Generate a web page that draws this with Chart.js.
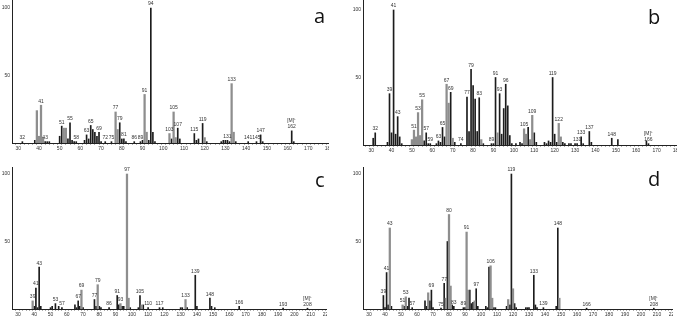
<!DOCTYPE html>
<html><head><meta charset="utf-8">
<script src="https://cdn.jsdelivr.net/npm/chart.js@4/dist/chart.umd.min.js"></script>
<style>
html,body{margin:0;padding:0;background:#fff}
body{width:683px;height:317px;position:relative;overflow:hidden}
canvas{position:absolute;display:block}
.tag{position:absolute;font-family:'Open Sans','Liberation Sans',sans-serif;font-size:20px;line-height:1;color:#111}
</style></head><body>
<canvas id="ca" width="329" height="158" style="left:0;top:0"></canvas>
<canvas id="cb" width="326" height="160" style="left:351px;top:0"></canvas>
<canvas id="cc" width="327" height="150" style="left:0;top:167px"></canvas>
<canvas id="cd" width="322" height="150" style="left:351px;top:167px"></canvas>
<div class="tag" style="left:314px;top:6px">a</div>
<div class="tag" style="left:648px;top:7px">b</div>
<div class="tag" style="left:315px;top:170px">c</div>
<div class="tag" style="left:648px;top:169px">d</div>
<script>
// ---- Panel a: [m/z, relative intensity]
const aDark = [[32,1],[38,2],[43,1],[44,1],[45,1],[50,5],[51,12.5],[54,3],[55,15],[56,2],[57,1],[58,1],[62,2],[63,6],[64,3],[65,13],[66,10],[67,8],[68,5],[69,8],[70,1],[72,1],[75,1],[79,15],[80,3],[81,3],[82,1],[86,1],[89,1],[90,2],[93,2],[94,100],[95,8],[96,1],[104,3],[107,11],[108,3],[115,7],[116,2],[117,3],[119,14.5],[121,1],[128,1],[129,2],[130,2],[131,2],[132,1],[135,1],[141,1],[145,1],[147,6],[148,1],[162,9],[163,1]];
const aGray = [[39,24],[40,5],[41,28],[42,4],[52,11],[53,11],[77,23],[78,10],[91,36],[92,8],[103,7],[105,23],[106,4],[120,4],[133,44],[134,8]];
const aLabels = [[32,'32'],[41,'41'],[43,'43'],[51,'51'],[55,'55'],[58,'58'],[63,'63'],[65,'65'],[69,'69'],[72,'72'],[75,'75'],[77,'77'],[79,'79'],[81,'81'],[86,'86'],[89,'89'],[91,'91'],[94,'94'],[103,'103'],[105,'105'],[107,'107'],[115,'115'],[119,'119'],[131,'131'],[133,'133'],[141,'141'],[145,'145'],[147,'147'],[162,['[M]⁺','162']]];

// ---- Panel b
const bDark = [[31,5],[32,9],[38,2],[39,38],[40,9],[41,100],[42,8],[43,21],[44,6],[45,1],[56,3],[57,9],[58,1],[59,1],[62,1],[63,3],[64,2],[65,13],[66,6],[69,39],[71,2],[74,1],[77,35.5],[78,10],[79,56],[80,44],[81,34],[82,10],[83,35],[85,1],[89,1],[90,1],[91,50],[93,38],[94,8],[95,27],[96,45],[97,29],[98,7],[99,1],[101,1],[103,2],[104,1],[107,13],[110,9],[111,2],[115,2],[116,1],[117,3],[118,2],[119,50],[120,8],[121,2],[124,2],[125,1],[127,1],[128,1],[130,1],[131,1],[133,6],[134,1],[137,10],[138,2],[148,5],[151,4],[165,3],[166,1]];
const bGray = [[50,4],[51,11],[52,6],[53,24],[54,7],[55,33.5],[67,45],[68,31],[70,5],[84,4],[92,9],[105,12],[106,8],[108,4],[109,22],[122,16],[123,6]];
const bLabels = [[32,'32'],[39,'39'],[41,'41'],[43,'43'],[51,'51'],[53,'53'],[55,'55'],[57,'57'],[59,'59'],[63,'63'],[65,'65'],[67,'67'],[69,'69'],[74,'74'],[77,'77'],[79,'79'],[83,'83'],[89,'89'],[91,'91'],[93,'93'],[96,'96'],[105,'105'],[109,'109'],[119,'119'],[122,'122'],[131,'131'],[133,'133'],[137,'137'],[148,'148'],[166,['[M]⁺','166']]];

// ---- Panel c
const cDark = [[40,2],[41,15.5],[42,1],[43,31],[44,2],[50,1],[51,2],[53,4],[55,2],[57,1],[65,3],[66,1],[67,6],[68,2],[70,1],[77,7],[78,2],[80,2],[81,1],[86,1],[91,10],[92,3],[94,2],[95,2],[99,1],[104,1],[105,10],[107,3],[110,1],[117,1],[119,1],[130,1],[131,1],[134,1],[139,25],[140,2],[148,8],[149,2],[151,1],[166,2],[193,0.6],[208,0.6]];
const cGray = [[39,6],[69,14],[79,18],[93,4],[97,100],[98,8],[106,3],[133,7]];
const cLabels = [[39,'39'],[41,'41'],[43,'43'],[53,'53'],[57,'57'],[67,'67'],[69,'69'],[77,'77'],[79,'79'],[86,'86'],[91,'91'],[93,'93'],[97,'97'],[105,'105'],[110,'110'],[117,'117'],[133,'133'],[139,'139'],[148,'148'],[166,'166'],[193,'193'],[208,['[M]⁺','208']]];

// ---- Panel d
const dDark = [[39,10],[40,1],[41,27],[42,3],[44,2],[52,2],[54,2],[55,8],[57,1],[65,6],[66,2],[68,6],[69,14],[70,1],[75,0.6],[77,19],[79,50],[82,3],[83,2],[89,1],[90,1],[93,14],[94,4],[95,5],[97,15],[98,2],[103,2],[104,1],[105,31],[108,1],[109,1],[116,2],[118,3],[119,100],[121,4],[122,1],[128,1],[129,1],[130,1],[133,25],[134,3],[135,1],[139,1],[147,2],[148,60],[166,0.6],[208,0.6]];
const dGray = [[43,60],[51,3],[53,9],[67,12],[78,8],[80,70],[81,17],[91,57],[92,14],[96,6],[106,32],[107,8],[117,7],[120,15],[149,8]];
const dLabels = [[39,'39'],[41,'41'],[43,'43'],[51,'51'],[53,'53'],[57,'57'],[69,'69'],[75,'75'],[77,'77'],[80,'80'],[83,'83'],[89,'89'],[91,'91'],[97,'97'],[106,'106'],[119,'119'],[133,'133'],[139,'139'],[148,'148'],[166,'166'],[208,['[M]⁺','208']]];

const DARK = '#1c1c1c', GRAY = '#8e8e8e';
const FONT = "'Liberation Sans', Arial, sans-serif";

const peakLabels = {
  id: 'peakLabels',
  afterDatasetsDraw(chart, args, opts) {
    const ctx = chart.ctx, xs = chart.scales.x, ys = chart.scales.y;
    const all = opts.dark.concat(opts.gray);
    ctx.save();
    ctx.fillStyle = '#333';
    ctx.font = '5px ' + FONT;
    ctx.textAlign = 'center';
    ctx.textBaseline = 'bottom';
    for (const [mz, txt] of opts.labels) {
      let h = 0;
      for (const [m, v] of all) if (m === mz && v > h) h = v;
      const x = xs.getPixelForValue(mz);
      let y = ys.getPixelForValue(h) - 1.5;
      const lines = Array.isArray(txt) ? txt : [txt];
      for (let i = lines.length - 1; i >= 0; i--) {
        ctx.fillText(lines[i], x, y);
        y -= 6;
      }
    }
    ctx.restore();
  }
};

function makePanel(id, dark, gray, labels, xmin, xmax, ymax, xAxisH) {
  const toPts = arr => arr.map(([x, y]) => ({x, y}));
  new Chart(document.getElementById(id), {
    type: 'bar',
    data: {
      datasets: [
        {data: toPts(gray), backgroundColor: GRAY, barThickness: 1.6, grouped: false},
        {data: toPts(dark), backgroundColor: DARK, barThickness: 1, grouped: false}
      ]
    },
    options: {
      responsive: false,
      animation: false,
      devicePixelRatio: 1,
      layout: {padding: 0},
      plugins: {legend: {display: false}, tooltip: {enabled: false},
        peakLabels: {dark, gray, labels}},
      scales: {
        x: {
          type: 'linear', min: xmin, max: xmax, offset: false,
          border: {display: true, color: '#222', width: 1},
          grid: {display: true, drawOnChartArea: false, drawTicks: true, tickLength: 1.5, color: '#333', lineWidth: 0.8},
          ticks: {stepSize: 2, autoSkip: false, maxRotation: 0, padding: 1, color: '#333',
            font: {size: 5, family: FONT},
            callback: v => (Math.abs(v % 10) < 1e-6 ? String(v) : '')},
          afterFit: s => { s.height = xAxisH; s.paddingLeft = 0; s.paddingRight = 0; }
        },
        y: {
          min: 0, max: ymax,
          border: {display: true, color: '#222', width: 1},
          grid: {display: false, drawTicks: false},
          ticks: {stepSize: 50, padding: 2, color: '#333', font: {size: 5, family: FONT},
            callback: v => (v === 50 || v === 100 ? String(v) : '')},
          afterFit: s => { s.width = 12; s.paddingTop = 0; s.paddingBottom = 0; }
        }
      }
    },
    plugins: [peakLabels]
  });
}

makePanel('ca', aDark, aGray, aLabels, 27, 180, 106, 15);
makePanel('cb', bDark, bGray, bLabels, 26, 180, 107.4, 15);
makePanel('cc', cDark, cGray, cLabels, 26.3, 220, 105.2, 8);
makePanel('cd', dDark, dGray, dLabels, 26.25, 220, 105.2, 8);
</script>
</body></html>
